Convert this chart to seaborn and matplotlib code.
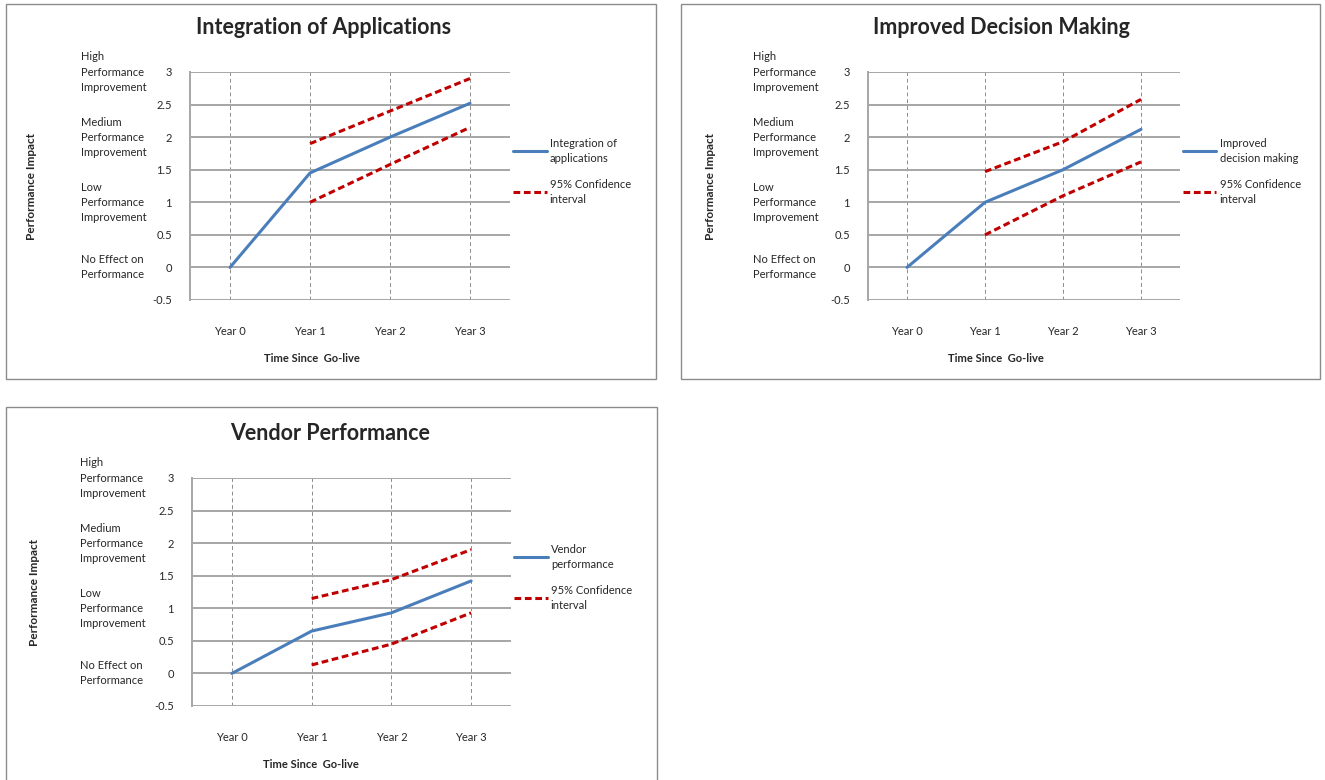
import numpy as np
import pandas as pd
import seaborn as sns
import matplotlib.pyplot as plt
from matplotlib.patches import Rectangle
from matplotlib.ticker import FuncFormatter
import matplotlib.transforms as mtransforms

# Datos
years = ["Year 0", "Year 1", "Year 2", "Year 3"]
ci_years = ["Year 1", "Year 2", "Year 3"]
level_values = [0, 1, 2, 3]
level_labels = ["No Effect on\nPerformance",
                "Low\nPerformance\nImprovement",
                "Medium\nPerformance\nImprovement",
                "High\nPerformance\nImprovement"]

titles = ["Integration of Applications", "Improved Decision Making", "Vendor Performance"]
series_labels = ["Integration of\napplications", "Improved\ndecision making", "Vendor\nperformance"]
ci_label = "95% Confidence\ninterval"

integration_mean = [0.0, 1.45, 2.0, 2.52]
integration_upper = [1.9, 2.4, 2.9]
integration_lower = [1.0, 1.58, 2.15]

decision_mean = [0.0, 1.0, 1.5, 2.12]
decision_upper = [1.47, 1.93, 2.58]
decision_lower = [0.5, 1.1, 1.62]

vendor_mean = [0.0, 0.65, 0.93, 1.42]
vendor_upper = [1.15, 1.44, 1.9]
vendor_lower = [0.13, 0.45, 0.93]

sns.set_style("white")
plt.rcParams['font.family'] = ['Lato', 'DejaVu Sans']

W, H = 1325, 780
fig = plt.figure(figsize=(W / 100, H / 100), dpi=100)

BLUE = '#4a7ebb'
RED = '#c00000'
GRID = '#a6a6a6'


def px_axes(left, top, right, bottom):
    return fig.add_axes([left / W, 1 - bottom / H, (right - left) / W, (bottom - top) / H])


def panel(box, ax_px, title, title_xy, mean, upper, lower, label, cat_x, ylab_x, xlab_x):
    # marco del grafico
    bx0, by0, bx1, by1 = box
    fig.patches.append(Rectangle((bx0 / W, 1 - by1 / H), (bx1 - bx0) / W, (by1 - by0) / H,
                                 transform=fig.transFigure, fill=False,
                                 edgecolor='#8c8c8c', lw=1.0))
    fig.text(title_xy[0] / W, 1 - title_xy[1] / H, title, ha='center', va='center',
             fontsize=15.5, fontweight='bold')

    ax = px_axes(*ax_px)
    width_px = ax_px[2] - ax_px[0]
    height_px = ax_px[3] - ax_px[1]

    pos = {y: i for i, y in enumerate(years)}
    df_mean = pd.DataFrame({'x': [pos[y] for y in years], 'y': mean})
    df_up = pd.DataFrame({'x': [pos[y] for y in ci_years], 'y': upper})
    df_lo = pd.DataFrame({'x': [pos[y] for y in ci_years], 'y': lower})

    sns.lineplot(data=df_mean, x='x', y='y', ax=ax, color=BLUE, lw=2.2, label=label)
    sns.lineplot(data=df_up, x='x', y='y', ax=ax, color=RED, lw=2.2,
                 dashes=False, label=ci_label)
    sns.lineplot(data=df_lo, x='x', y='y', ax=ax, color=RED, lw=2.2, dashes=False)
    for ln in ax.lines[1:]:
        ln.set_dashes((2.2, 1.2))

    ax.set_xlim(-0.5, 3.5)
    ax.set_ylim(-0.5, 3)
    ax.set_xticks(range(len(years)))
    ax.set_xticklabels(years)
    ax.set_yticks(np.arange(-0.5, 3.01, 0.5))
    ax.yaxis.set_major_formatter(FuncFormatter(lambda v, p: f"{v:g}"))
    ax.tick_params(axis='x', length=0, pad=19, labelsize=8)
    ax.tick_params(axis='y', length=0, pad=13, labelsize=8)

    ax.grid(axis='y', color=GRID, lw=1.4, ls='-')
    ax.grid(axis='x', color='#8c8c8c', lw=0.7, ls=(0, (4, 3)))
    ax.set_axisbelow(True)
    for s in ['top', 'right', 'bottom']:
        ax.spines[s].set_visible(False)
    ax.spines['left'].set_color(GRID)
    ax.spines['left'].set_linewidth(1.4)

    ax.set_xlabel('')
    ax.set_ylabel('')
    ax.text(xlab_x, -58 / height_px, "Time Since  Go-live", transform=ax.transAxes,
            ha='center', va='center', fontsize=8, fontweight='bold')
    ax.text(ylab_x / width_px, 0.5, "Performance Impact", transform=ax.transAxes,
            ha='center', va='center', rotation=90, fontsize=8.5, fontweight='bold')

    trans = mtransforms.blended_transform_factory(ax.transAxes, ax.transData)
    for v, t in zip(level_values, level_labels):
        ax.text(cat_x / width_px, v, t, transform=trans, ha='left', va='center',
                fontsize=8, linespacing=1.45)

    handles, labels = ax.get_legend_handles_labels()
    leg = ax.legend(handles, labels, loc='upper left', bbox_to_anchor=(1.01, 0.712),
                    frameon=False, fontsize=8, handlelength=3.0, handletextpad=0.3,
                    labelspacing=1.35, borderpad=0, borderaxespad=0)
    for t in leg.get_texts():
        t.set_linespacing(1.45)
    return ax


panel((6, 4, 656, 379), (190, 72, 510, 300), titles[0], (324, 28),
      integration_mean, integration_upper, integration_lower, series_labels[0],
      -109, -158, 0.381)
panel((681, 4, 1320, 379), (868, 72, 1180, 300), titles[1], (1001, 28),
      decision_mean, decision_upper, decision_lower, series_labels[1],
      -115, -158, 0.41)
panel((6, 407, 657, 790), (192, 478, 511, 706), titles[2], (330, 433),
      vendor_mean, vendor_upper, vendor_lower, series_labels[2],
      -112, -158, 0.373)

plt.savefig('out.png', dpi=100)
